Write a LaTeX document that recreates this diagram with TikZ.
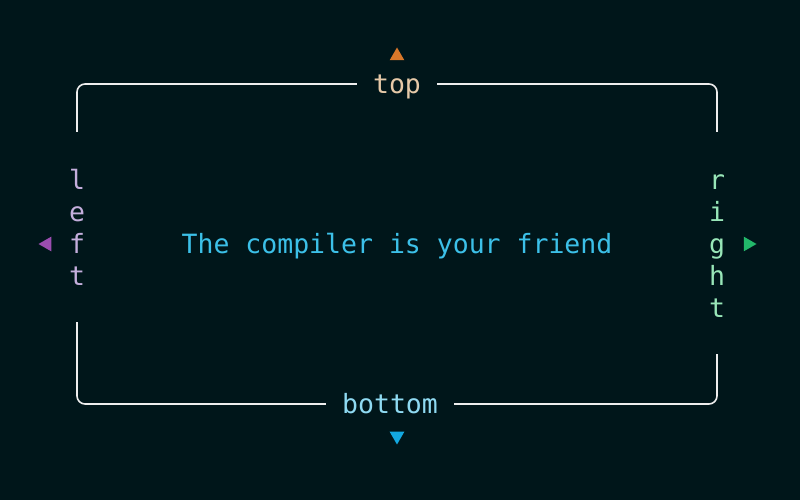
\documentclass[tikz,border=0pt]{standalone}
\usepackage{fontspec}
\setmonofont{DejaVu Sans Mono}
\usetikzlibrary{shapes.geometric}
\definecolor{bgdark}{HTML}{00161A}
\definecolor{frameline}{HTML}{EEEEEE}
\definecolor{toptext}{HTML}{E6C9A8}
\definecolor{toptri}{HTML}{D9782A}
\definecolor{lefttext}{HTML}{C4AEDC}
\definecolor{lefttri}{HTML}{9B4DB0}
\definecolor{righttext}{HTML}{98E6B8}
\definecolor{righttri}{HTML}{22B86A}
\definecolor{bottext}{HTML}{8FDAF2}
\definecolor{bottri}{HTML}{13A8E0}
\definecolor{midtext}{HTML}{3CC0E8}
\tikzset{
  lbl/.style={font=\ttfamily\fontsize{26.5}{32}\selectfont, fill=bgdark, align=center},
  tri/.style={regular polygon, regular polygon sides=3, minimum size=17pt, inner sep=0pt}
}
\begin{document}
\begin{tikzpicture}[x=1pt,y=1pt]
\useasboundingbox (0,0) rectangle (800,500);
\fill[bgdark] (0,0) rectangle (800,500);
\draw[frameline, line width=1.6pt, rounded corners=8pt] (77,96) rectangle (717,416);

\node[lbl, text=toptext, inner xsep=16pt, inner ysep=2pt, yshift=-3pt] (top) at (397,416) {top};
\node[lbl, text=bottext, inner xsep=16pt, inner ysep=2pt] (bottom) at (390,96) {bottom};
\node[lbl, text=lefttext, inner xsep=4pt, inner ysep=37pt, anchor=north] (left) at (77,368) {l\\e\\f\\t};
\node[lbl, text=righttext, inner xsep=4pt, inner ysep=37pt, anchor=north] (right) at (717,368) {\vphantom{l}r\\i\\g\\h\\t};
\node[lbl, text=midtext, fill=none] (msg) at (397,254) {The compiler is your friend};

\node[tri, fill=toptri] (uptri) at (397,444) {};
\node[tri, fill=bottri, shape border rotate=180] (downtri) at (397,64) {};
\node[tri, fill=lefttri, shape border rotate=90] (lefttri) at (47,256) {};
\node[tri, fill=righttri, shape border rotate=-90] (righttri) at (748,256) {};
\end{tikzpicture}
\end{document}
